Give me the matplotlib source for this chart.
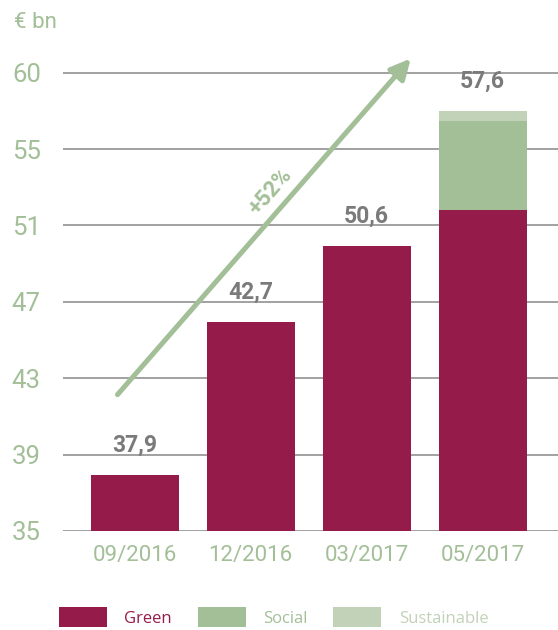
import matplotlib
matplotlib.use("Agg")
from matplotlib import pyplot as plt

# values (bar tops in axis units, labels as printed)
dates = ["09/2016", "12/2016", "03/2017", "05/2017"]
green = [37.93, 45.95, 49.94, 51.82]
social = [0, 0, 0, 4.67]
sustainable = [0, 0, 0, 0.52]
totals_txt = ["37,9", "42,7", "50,6", "57,6"]
tick_pos = [35, 39, 43, 47, 51, 55, 59]
tick_txt = ["35", "39", "43", "47", "51", "55", "60"]

c_green = "#941b4a"
c_social = "#a3bf98"
c_sust = "#c1d2b8"
c_axis = "#a3bf98"
c_grey = "#7a7a7a"

plt.rcParams["font.family"] = ["Roboto", "DejaVu Sans"]

fig = plt.figure(figsize=(5.58, 6.3), dpi=100)
ax = fig.add_axes([63 / 558, 99 / 630, 1 - 63 / 558, (531 - 44) / 630])

x = list(range(len(dates)))
w = 0.76
b1 = ax.bar(x, [g - 35 for g in green], w, bottom=35, color=c_green, label="Green", zorder=3)
b2 = ax.bar(x, social, w, bottom=green, color=c_social, label="Social", zorder=3)
tops = [g + s for g, s in zip(green, social)]
b3 = ax.bar(x, sustainable, w, bottom=tops, color=c_sust, label="Sustainable", zorder=3)

for i, t in enumerate(totals_txt):
    top = green[i] + social[i] + sustainable[i]
    ax.text(i, top + 0.95, t, ha="center", va="bottom", fontsize=16.5,
            fontweight="bold", color=c_grey)

ax.set_xlim(-0.62, 3.65)
ax.set_ylim(35, 60.5)
ax.set_yticks(tick_pos)
ax.set_yticklabels(tick_txt)
ax.set_xticks(x)
ax.set_xticklabels(dates)
ax.tick_params(length=0, labelsize=16, colors=c_axis)
ax.tick_params(axis="y", labelsize=18.5, pad=16)
ax.tick_params(axis="x", pad=10)
ax.grid(axis="y", color="#9a9a9a", linewidth=1.3, zorder=1)
for s in ax.spines.values():
    s.set_visible(False)

# growth arrow
ax.annotate("", xy=(2.38, 59.74), xytext=(-0.15, 42.14),
            arrowprops=dict(arrowstyle="-|>,head_length=1.2,head_width=0.6",
                            color=c_social, lw=3.6, shrinkA=0, shrinkB=0),
            zorder=4)
ax.text(1.17, 52.75, "+52%", rotation=49, ha="center", va="center",
        fontsize=16, fontweight="bold", color=c_social)

fig.text(14 / 558, 1 - 23 / 630, "€ bn", fontsize=16, color=c_axis, va="center")

leg = fig.legend(handles=[b1, b2, b3], loc="upper left",
                 bbox_to_anchor=(59 / 558, 1 - 607 / 630), ncol=3,
                 frameon=False, borderpad=0, borderaxespad=0,
                 handlelength=2.87, handleheight=1.5, handletextpad=1.05,
                 columnspacing=1.55, prop={"family": ["Open Sans", "DejaVu Sans"], "size": 12})
for txt, c in zip(leg.get_texts(), [c_green, c_social, c_sust]):
    txt.set_color(c)

fig.savefig("out.png", dpi=100)
